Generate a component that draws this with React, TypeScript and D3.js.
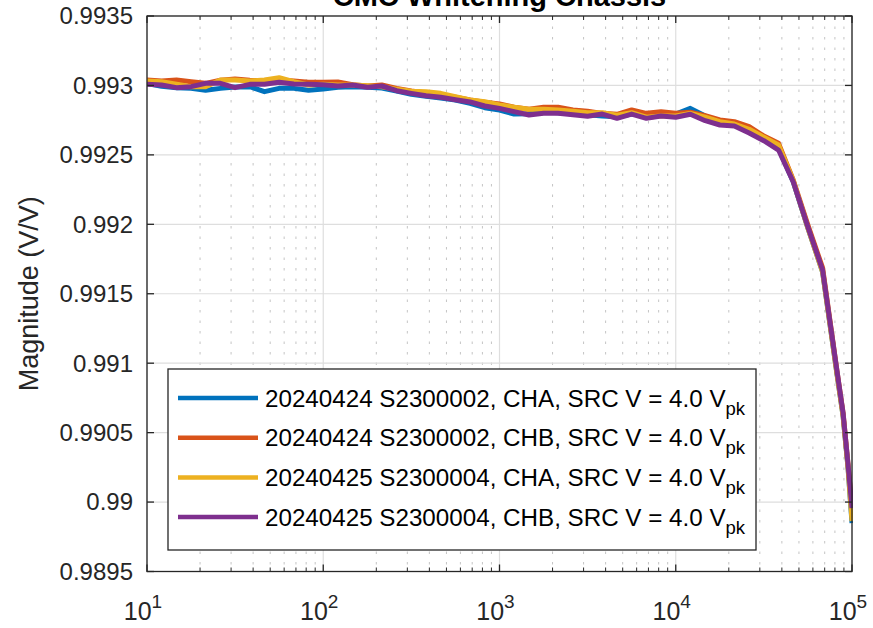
import React, { useEffect, useRef } from 'react';
import * as d3 from 'd3';

// frequency points (Hz)
const freqs = [
  10, 12.1, 14.7, 17.8, 21.5, 26.1, 31.6, 38.3, 46.4, 56.2,
  68.1, 82.5, 100, 121, 147, 178, 215, 261, 316, 383,
  464, 562, 681, 825, 1000, 1210, 1470, 1780, 2150, 2610,
  3160, 3830, 4640, 5620, 6810, 8250, 10000, 12100, 14700, 17800,
  21500, 26100, 31600, 38300, 46400, 56200, 68100, 82500, 89000, 95000,
  100000,
];

const magS2A = [
  0.993015, 0.992994, 0.992984, 0.992979, 0.992965, 0.992979, 0.992989, 0.992991, 0.992955, 0.992979,
  0.992979, 0.992965, 0.992974, 0.992987, 0.992991, 0.992987, 0.992982, 0.99296, 0.992936, 0.992922,
  0.99291, 0.992895, 0.992871, 0.99284, 0.992823, 0.992794, 0.992796, 0.992811, 0.992804, 0.992796,
  0.992789, 0.99278, 0.992775, 0.992794, 0.992787, 0.992787, 0.992794, 0.992835, 0.99278, 0.992732,
  0.992717, 0.992667, 0.992612, 0.992547, 0.992307, 0.991973, 0.991657, 0.990908, 0.99062, 0.990245,
  0.989849,
];

const magS2B = [
  0.993039, 0.993032, 0.993039, 0.993027, 0.993015, 0.993037, 0.993046, 0.993037, 0.993034, 0.993039,
  0.993032, 0.993023, 0.993023, 0.993025, 0.993005, 0.992996, 0.993003, 0.992979, 0.99296, 0.992946,
  0.992924, 0.992915, 0.992895, 0.992879, 0.992866, 0.992843, 0.992828, 0.992843, 0.992843, 0.992823,
  0.992814, 0.992799, 0.992792, 0.992823, 0.992799, 0.992811, 0.992799, 0.992807, 0.992782, 0.992751,
  0.992739, 0.992703, 0.992636, 0.992583, 0.992319, 0.991995, 0.991686, 0.990929, 0.990641, 0.990267,
  0.989943,
];

const magS4A = [
  0.993032, 0.993027, 0.993008, 0.992991, 0.992991, 0.993039, 0.993039, 0.993032, 0.993039, 0.993056,
  0.993027, 0.993003, 0.993008, 0.993003, 0.993003, 0.992998, 0.992991, 0.992972, 0.992958, 0.992955,
  0.992943, 0.992919, 0.992895, 0.992883, 0.992859, 0.992843, 0.992828, 0.992828, 0.992823, 0.992814,
  0.992804, 0.992804, 0.992785, 0.992804, 0.992771, 0.99278, 0.99278, 0.992799, 0.992771, 0.992739,
  0.992722, 0.992684, 0.992627, 0.992571, 0.992314, 0.991973, 0.991657, 0.990908, 0.99062, 0.990245,
  0.989864,
];

const magS4B = [
  0.993008, 0.993003, 0.992984, 0.992991, 0.993015, 0.993015, 0.992984, 0.993008, 0.993008, 0.993023,
  0.99301, 0.993008, 0.993005, 0.992996, 0.993003, 0.992987, 0.992996, 0.992962, 0.992943, 0.992926,
  0.992915, 0.992897, 0.992881, 0.992852, 0.992835, 0.992811, 0.992787, 0.992799, 0.992799, 0.992789,
  0.992778, 0.992794, 0.992763, 0.992794, 0.992763, 0.99278, 0.992771, 0.992792, 0.992746, 0.992715,
  0.992708, 0.992658, 0.992602, 0.992535, 0.992307, 0.991981, 0.991671, 0.990929, 0.990641, 0.990267,
  0.989957,
];

const seriesNames = [
  '20240424 S2300002, CHA, SRC V = 4.0 V',
  '20240424 S2300002, CHB, SRC V = 4.0 V',
  '20240425 S2300004, CHA, SRC V = 4.0 V',
  '20240425 S2300004, CHB, SRC V = 4.0 V',
];
const seriesColors = ['#0072BD', '#D95319', '#EDB120', '#7E2F8E'];

const yTicks = [0.9895, 0.99, 0.9905, 0.991, 0.9915, 0.992, 0.9925, 0.993, 0.9935];
const yTickLabels = ['0.9895', '0.99', '0.9905', '0.991', '0.9915', '0.992', '0.9925', '0.993', '0.9935'];
const xTicks = [10, 100, 1000, 10000, 100000];
const xTickExps = ['1', '2', '3', '4', '5'];

const W = 873;
const H = 628;
const FONT = 'Liberation Sans, Arial, Helvetica, sans-serif';
const AXIS = '#262626';

const App = () => {
  const svgRef = useRef<SVGSVGElement>(null);

  useEffect(() => {
    if (!svgRef.current) return;
    const svg = d3.select(svgRef.current);
    svg.selectAll('*').remove();

    const left = 147;
    const right = 852;
    const top = 16;
    const bottom = 571.5;

    const x = d3.scaleLog().domain([10, 100000]).range([left, right]);
    const y = d3.scaleLinear().domain([0.9895, 0.9935]).range([bottom, top]);

    const minorTicks = x.ticks().filter((t) => !xTicks.includes(t));

    svg.append('rect').attr('width', W).attr('height', H).attr('fill', '#fff');

    // grid
    const grid = svg.append('g');
    grid
      .selectAll('line.minor')
      .data(minorTicks)
      .enter()
      .append('line')
      .attr('x1', (d) => x(d))
      .attr('x2', (d) => x(d))
      .attr('y1', top)
      .attr('y2', bottom)
      .attr('stroke', '#c4c4c4')
      .attr('stroke-width', 1)
      .attr('stroke-dasharray', '2.5,8');
    grid
      .selectAll('line.vmajor')
      .data(xTicks)
      .enter()
      .append('line')
      .attr('x1', (d) => x(d))
      .attr('x2', (d) => x(d))
      .attr('y1', top)
      .attr('y2', bottom)
      .attr('stroke', '#dedede')
      .attr('stroke-width', 1.2);
    grid
      .selectAll('line.hmajor')
      .data(yTicks)
      .enter()
      .append('line')
      .attr('x1', left)
      .attr('x2', right)
      .attr('y1', (d) => y(d))
      .attr('y2', (d) => y(d))
      .attr('stroke', '#dedede')
      .attr('stroke-width', 1.2);

    // lines
    svg
      .append('clipPath')
      .attr('id', 'plot-clip')
      .append('rect')
      .attr('x', left)
      .attr('y', top - 3)
      .attr('width', right - left + 1)
      .attr('height', bottom - top + 6);

    const allSeries = [magS2A, magS2B, magS4A, magS4B];
    const line = d3
      .line<number>()
      .x((_, i) => x(freqs[i]))
      .y((d) => y(d));

    svg
      .append('g')
      .attr('clip-path', 'url(#plot-clip)')
      .selectAll('path')
      .data(allSeries)
      .enter()
      .append('path')
      .attr('d', (d) => line(d))
      .attr('fill', 'none')
      .attr('stroke', (_, i) => seriesColors[i])
      .attr('stroke-width', 5)
      .attr('stroke-linejoin', 'round');

    // axes box
    const ax = svg.append('g').attr('stroke', AXIS).attr('stroke-width', 1.3);
    ax.append('rect')
      .attr('x', left)
      .attr('y', top)
      .attr('width', right - left)
      .attr('height', bottom - top)
      .attr('fill', 'none');

    const tickLen = 7;
    const minorLen = 4;
    xTicks.forEach((t) => {
      ax.append('line').attr('x1', x(t)).attr('x2', x(t)).attr('y1', bottom).attr('y2', bottom - tickLen);
      ax.append('line').attr('x1', x(t)).attr('x2', x(t)).attr('y1', top).attr('y2', top + tickLen);
    });
    minorTicks.forEach((t) => {
      ax.append('line').attr('x1', x(t)).attr('x2', x(t)).attr('y1', bottom).attr('y2', bottom - minorLen).attr('stroke-width', 1);
      ax.append('line').attr('x1', x(t)).attr('x2', x(t)).attr('y1', top).attr('y2', top + minorLen).attr('stroke-width', 1);
    });
    yTicks.forEach((t) => {
      ax.append('line').attr('x1', left).attr('x2', left + tickLen).attr('y1', y(t)).attr('y2', y(t));
      ax.append('line').attr('x1', right).attr('x2', right - tickLen).attr('y1', y(t)).attr('y2', y(t));
    });

    // tick labels
    svg
      .append('g')
      .selectAll('text')
      .data(yTicks)
      .enter()
      .append('text')
      .attr('x', left - 14)
      .attr('y', (d) => y(d))
      .attr('dy', '0.35em')
      .attr('text-anchor', 'end')
      .attr('font-family', FONT)
      .attr('font-size', 24)
      .attr('fill', AXIS)
      .text((_, i) => yTickLabels[i]);

    const xl = svg
      .append('g')
      .selectAll('text')
      .data(xTicks)
      .enter()
      .append('text')
      .attr('x', (d) => x(d) - 4)
      .attr('y', 620)
      .attr('text-anchor', 'middle')
      .attr('font-family', FONT)
      .attr('font-size', 25)
      .attr('fill', AXIS);
    xl.append('tspan').text('10');
    xl.append('tspan')
      .attr('dy', -12)
      .attr('font-size', 19)
      .text((_, i) => xTickExps[i]);

    // y label
    svg
      .append('text')
      .attr('transform', `translate(38,${(top + bottom) / 2}) rotate(-90)`)
      .attr('text-anchor', 'middle')
      .attr('font-family', FONT)
      .attr('font-size', 27)
      .attr('fill', AXIS)
      .text('Magnitude (V/V)');

    // title (clipped by the top edge, as in the source figure)
    svg
      .append('text')
      .attr('x', (left + right) / 2)
      .attr('y', 6)
      .attr('text-anchor', 'middle')
      .attr('font-family', FONT)
      .attr('font-size', 29)
      .attr('font-weight', 'bold')
      .attr('fill', '#000')
      .text('CMC Whitening Chassis');

    // legend
    const lg = svg.append('g');
    lg.append('rect')
      .attr('x', 168)
      .attr('y', 369)
      .attr('width', 588)
      .attr('height', 181)
      .attr('fill', '#fff')
      .attr('stroke', AXIS)
      .attr('stroke-width', 1.3);
    seriesNames.forEach((name, i) => {
      const cy = 398 + i * 39.7;
      lg.append('line')
        .attr('x1', 178)
        .attr('x2', 258)
        .attr('y1', cy)
        .attr('y2', cy)
        .attr('stroke', seriesColors[i])
        .attr('stroke-width', 4.5);
      const t = lg
        .append('text')
        .attr('x', 265)
        .attr('y', cy + 8.5)
        .attr('font-family', FONT)
        .attr('font-size', 24.2)
        .attr('fill', '#000');
      t.append('tspan').text(name);
      t.append('tspan').attr('dy', 8).attr('font-size', 18.5).text('pk');
    });
  }, []);

  return (
    <svg
      ref={svgRef}
      width={W}
      height={H}
      style={{ position: 'absolute', left: 0, top: 0, display: 'block' }}
    />
  );
};

export default App;
